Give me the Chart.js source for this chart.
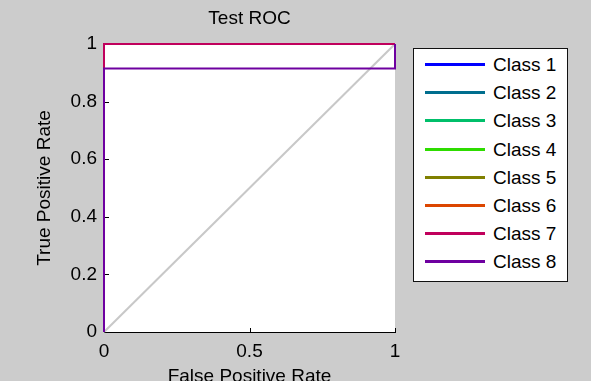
<!DOCTYPE html>
<html lang="en">
<head>
  <meta charset="UTF-8">
  <title>Test ROC</title>
  <script src="https://cdn.jsdelivr.net/npm/chart.js@4"></script>
  <style>
    html, body {
      margin: 0;
      padding: 0;
      background: #cccccc;
    }

    body {
      width: 591px;
      height: 381px;
      overflow: hidden;
      position: relative;
      font-family: "Liberation Sans", Arial, sans-serif;
    }

    .chart-wrap {
      position: absolute;
      left: 0;
      top: 0;
      width: 591px;
      height: 381px;
    }

    .legend {
      position: absolute;
      left: 413px;
      top: 48px;
      width: 155px;
      height: 234px;
      box-sizing: border-box;
      background: #fff;
      border: 1px solid #111;
    }

    .legend .item {
      position: absolute;
      left: 0;
      height: 20px;
      width: 150px;
    }

    .legend .swatch {
      position: absolute;
      left: 11px;
      top: 9px;
      width: 60px;
      height: 3px;
    }

    .legend .name {
      position: absolute;
      left: 79px;
      top: 0;
      font-size: 19px;
      line-height: 21px;
      color: #000;
      white-space: nowrap;
    }
  </style>
</head>
<body>

<div class="chart-wrap">
  <canvas id="chart"></canvas>
</div>
<div class="legend" id="legend"></div>

<script>
  // ROC data
  const classNames = ['Class 1', 'Class 2', 'Class 3', 'Class 4', 'Class 5', 'Class 6', 'Class 7', 'Class 8'];
  const classColors = ['#0000ff', '#006e8e', '#00bf6a', '#2edc00', '#808000', '#dc4600', '#c0005c', '#6e00a0'];

  // false positive rate / true positive rate per class (classes 1-6 lie under class 7)
  const fprClass1 = [0, 0, 1];
  const tprClass1 = [0, 1, 1];
  const fprClass2 = [0, 0, 1];
  const tprClass2 = [0, 1, 1];
  const fprClass3 = [0, 0, 1];
  const tprClass3 = [0, 1, 1];
  const fprClass4 = [0, 0, 1];
  const tprClass4 = [0, 1, 1];
  const fprClass5 = [0, 0, 1];
  const tprClass5 = [0, 1, 1];
  const fprClass6 = [0, 0, 1];
  const tprClass6 = [0, 1, 1];
  const fprClass7 = [0, 0, 1];
  const tprClass7 = [0, 1, 1];
  const fprClass8 = [0, 0, 1, 1];
  const tprClass8 = [0, 0.915, 0.915, 1];

  const chanceX = [0, 1];
  const chanceY = [0, 1];

  const xTicks = [0, 0.5, 1];
  const yTicks = [0, 0.2, 0.4, 0.6, 0.8, 1];

  const fprAll = [fprClass1, fprClass2, fprClass3, fprClass4, fprClass5, fprClass6, fprClass7, fprClass8];
  const tprAll = [tprClass1, tprClass2, tprClass3, tprClass4, tprClass5, tprClass6, tprClass7, tprClass8];

  function toPoints(xs, ys) {
    return xs.map((x, i) => ({ x: x, y: ys[i] }));
  }

  Chart.defaults.font.family = "'Liberation Sans', Arial, sans-serif";
  Chart.defaults.color = '#000';

  const datasets = classNames.map((name, i) => ({
    label: name,
    data: toPoints(fprAll[i], tprAll[i]),
    borderColor: classColors[i],
    backgroundColor: classColors[i],
    borderWidth: 2,
    showLine: true,
    pointRadius: 0,
    fill: false,
    clip: false,
    order: classNames.length - i   // later classes on top, like MATLAB
  }));

  datasets.push({
    label: 'chance',
    data: toPoints(chanceX, chanceY),
    borderColor: '#c8c8c8',
    borderWidth: 2,
    showLine: true,
    pointRadius: 0,
    fill: false,
    clip: false,
    order: 20
  });

  // MATLAB style tick marks pointing into the axes
  const inwardTicks = {
    id: 'inwardTicks',
    beforeDatasetsDraw(chart) {
      const { ctx, chartArea, scales } = chart;
      ctx.save();
      ctx.strokeStyle = '#000';
      ctx.lineWidth = 1;
      ctx.beginPath();
      xTicks.forEach(v => {
        const px = Math.round(scales.x.getPixelForValue(v)) + 0.5;
        ctx.moveTo(px, chartArea.bottom);
        ctx.lineTo(px, chartArea.bottom - 4);
      });
      yTicks.forEach(v => {
        const py = Math.round(scales.y.getPixelForValue(v)) + 0.5;
        ctx.moveTo(chartArea.left, py);
        ctx.lineTo(chartArea.left + 5, py);
      });
      ctx.stroke();
      ctx.restore();
    }
  };

  // white plot background
  const plotBackground = {
    id: 'plotBackground',
    beforeDraw(chart) {
      const { ctx, chartArea } = chart;
      ctx.save();
      ctx.fillStyle = '#fff';
      ctx.fillRect(chartArea.left, chartArea.top, chartArea.right - chartArea.left, chartArea.bottom - chartArea.top);
      ctx.restore();
    }
  };

  const fmt = v => String(Math.round(v * 10) / 10);

  new Chart(document.getElementById('chart'), {
    type: 'scatter',
    data: { datasets: datasets },
    plugins: [plotBackground, inwardTicks],
    options: {
      responsive: true,
      maintainAspectRatio: false,
      animation: false,
      layout: { padding: { left: 0, right: 196, top: 0, bottom: 0 } },
      plugins: {
        legend: { display: false },
        tooltip: { enabled: false },
        title: {
          display: true,
          text: 'Test ROC',
          fullSize: false,
          color: '#000',
          font: { size: 19, weight: 'normal' },
          padding: { top: 7, bottom: 14.2 }
        }
      },
      scales: {
        x: {
          type: 'linear',
          min: 0,
          max: 1,
          afterBuildTicks: s => { s.ticks = xTicks.map(v => ({ value: v })); },
          afterFit: s => { s.height = 49; },
          grid: { display: false, drawTicks: false },
          border: { display: true, color: '#000', width: 1 },
          ticks: { callback: fmt, font: { size: 19 }, padding: 8, maxRotation: 0 },
          title: {
            display: true,
            text: 'False Positive Rate',
            font: { size: 19 },
            padding: { top: 0, bottom: -7 }
          }
        },
        y: {
          type: 'linear',
          min: 0,
          max: 1,
          afterBuildTicks: s => { s.ticks = yTicks.map(v => ({ value: v })); },
          afterFit: s => { s.width = 104; },
          grid: { display: false, drawTicks: false },
          border: { display: true, color: '#000', width: 1 },
          ticks: { callback: fmt, font: { size: 19 }, padding: 7 },
          title: {
            display: true,
            text: 'True Positive Rate',
            font: { size: 19 },
            padding: { top: 33, bottom: 0 }
          }
        }
      }
    }
  });

  // legend box, same layout as the MATLAB legend
  const legendEl = document.getElementById('legend');
  classNames.forEach((name, i) => {
    const item = document.createElement('div');
    item.className = 'item';
    item.style.top = (5 + 28.2 * i) + 'px';
    const swatch = document.createElement('div');
    swatch.className = 'swatch';
    swatch.style.background = classColors[i];
    const label = document.createElement('div');
    label.className = 'name';
    label.textContent = name;
    item.appendChild(swatch);
    item.appendChild(label);
    legendEl.appendChild(item);
  });
</script>

</body>
</html>
